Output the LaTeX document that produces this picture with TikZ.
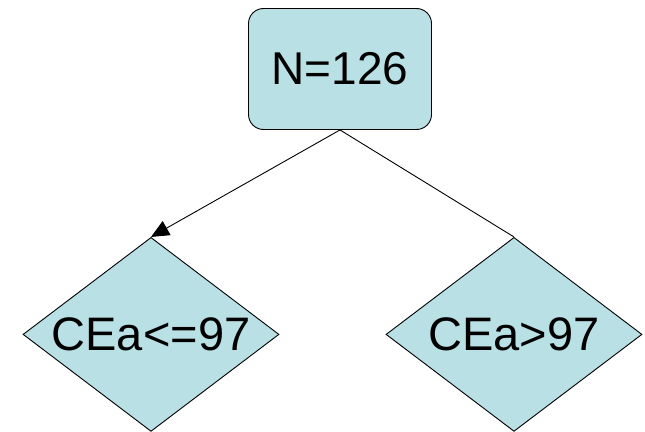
\documentclass[tikz,border=0pt]{standalone}
\usepackage{fontspec}
\setmainfont{Liberation Sans}
\usetikzlibrary{positioning}
\usetikzlibrary{shapes.geometric}
\usetikzlibrary{arrows.meta}
\definecolor{boxfill}{RGB}{185,224,228}

\begin{document}
\begin{tikzpicture}[x=1pt, y=-1pt,  root/.style={    draw,    fill=boxfill,    rectangle,    rounded corners=15pt,    minimum width=183pt,    minimum height=121pt,    line width=0.9pt,    font=\fontsize{46}{55}\selectfont  },  cond/.style={    draw,    fill=boxfill,    diamond,    inner sep=0pt,    minimum width=256pt,    minimum height=194pt,    line width=0.9pt,    font=\fontsize{47}{56}\selectfont  },  arrow/.style={    -{Triangle[length=18pt,width=16pt]},    line width=0.9pt  },  link/.style={    line width=0.9pt  }]
		\useasboundingbox (0,0) rectangle (645,431);
		% Nodes
		\node[root] (N) at (340,69) {N=126};
		\node[cond, below=107pt of N, xshift=-189pt] (L) {\makebox[0pt]{CEa<=97}};
		\node[cond, below=107pt of N, xshift=174pt] (R) {\makebox[0pt]{CEa>97}};
		% Edges
		\draw[arrow] (N.south) -- (L.north);
		\draw[link] (N.south) -- (R.north);
	\end{tikzpicture}
\end{document}
